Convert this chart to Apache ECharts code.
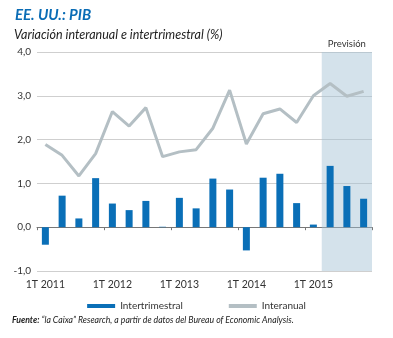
<!DOCTYPE html>
<html><head><meta charset="utf-8">
<script src="https://cdn.jsdelivr.net/npm/echarts@6/dist/echarts.min.js"></script>
<style>html,body{margin:0;padding:0;background:#fff}#c{width:393px;height:338px}</style>
</head><body><div id="c"></div>
<script>
const categories = ['1T 2011','2T 2011','3T 2011','4T 2011','1T 2012','2T 2012','3T 2012','4T 2012','1T 2013','2T 2013','3T 2013','4T 2013','1T 2014','2T 2014','3T 2014','4T 2014','1T 2015','2T 2015','3T 2015','4T 2015'];
const intertrimestral = [-0.40,0.72,0.20,1.12,0.54,0.39,0.60,0.01,0.67,0.43,1.11,0.86,-0.53,1.13,1.22,0.55,0.06,1.40,0.94,0.65];
const interanual = [1.89,1.64,1.17,1.68,2.64,2.31,2.73,1.61,1.72,1.77,2.26,3.13,1.90,2.59,2.70,2.39,3.00,3.28,2.99,3.10];
const forecastStart = 17;
const yTicks = [-1,0,1,2,3,4];
const FONT = 'Lato';

const chart = echarts.init(document.getElementById('c'));
chart.setOption({
  animation:false,
  textStyle:{fontFamily:FONT},
  title:[
    {text:'EE. UU.: PIB',left:10,top:3,textStyle:{fontFamily:FONT,fontSize:15,fontWeight:'bold',fontStyle:'italic',color:'#0a6cb5'}},
    {text:'Variación interanual e intertrimestral (%)',left:9,top:23,textStyle:{fontFamily:FONT,fontSize:12.5,fontWeight:'normal',fontStyle:'italic',color:'#222'}}
  ],
  grid:{left:37,right:21,top:52,bottom:67},
  legend:{
    data:[{name:'Intertrimestral',icon:'rect'},{name:'Interanual',icon:'rect'}],
    left:'center',top:296,itemWidth:28,itemHeight:4,itemGap:46,
    textStyle:{fontFamily:FONT,fontSize:10,color:'#333'}
  },
  xAxis:[
    {type:'category',data:categories,boundaryGap:true,
     axisLine:{onZero:true,lineStyle:{color:'#777',width:1}},
     axisTick:{show:true,interval:3,length:3,lineStyle:{color:'#777'}},
     axisLabel:{interval:3,margin:8,fontSize:10.5,color:'#333',fontFamily:FONT},
     splitLine:{show:false}},
    {type:'value',min:0,max:20,show:false}
  ],
  yAxis:{type:'value',min:-1,max:4,interval:1,
    axisLine:{show:false},axisTick:{show:false},
    axisLabel:{margin:6,fontSize:10,color:'#333',fontFamily:FONT,formatter:v=>v.toFixed(1).replace('.',',')},
    splitLine:{lineStyle:{color:'#cfcfcf',width:1}}},
  series:[
    {name:'shade',type:'line',xAxisIndex:1,data:[],silent:true,
     markArea:{silent:true,itemStyle:{color:'rgba(160,190,210,0.45)'},
       label:{show:true,position:'top',distance:3,color:'#333',fontSize:9.5,fontFamily:FONT,formatter:'Previsión'},
       data:[[{coord:[forecastStart,4]},{coord:[20,-1]}]]}},
    {name:'Intertrimestral',type:'bar',data:intertrimestral,barWidth:7,itemStyle:{color:'#0a6fb7'},z:3},
    {name:'Interanual',type:'line',data:interanual,symbol:'none',lineStyle:{color:'#b4bfc4',width:3},itemStyle:{color:'#b4bfc4'},z:4}
  ],
  graphic:[{type:'text',left:12,top:316,style:{
    text:'{b|Fuente:} “la Caixa” Research, a partir de datos del Bureau of Economic Analysis.',
    rich:{b:{fontWeight:'bold',fontStyle:'italic',fontSize:8.7,fontFamily:FONT,fill:'#222'}},
    font:'italic 8.7px '+FONT,fill:'#222'}}]
});
</script></body></html>
